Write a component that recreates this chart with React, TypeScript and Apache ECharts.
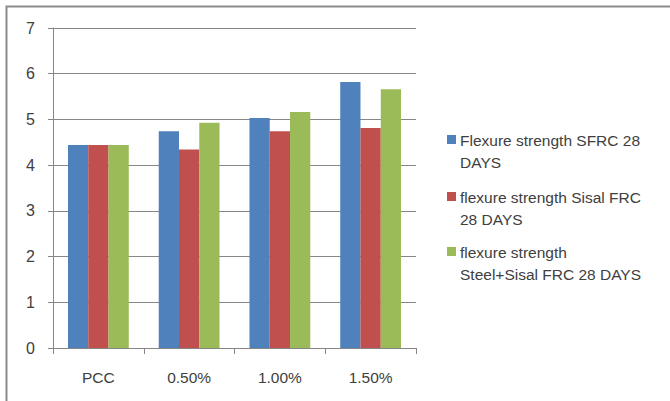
import React, { useEffect, useRef } from "react";
import * as echarts from "echarts";

const categories = ["PCC", "0.50%", "1.00%", "1.50%"];
const seriesNames = [
  "Flexure strength SFRC 28 DAYS",
  "flexure strength Sisal FRC 28 DAYS",
  "flexure strength Steel+Sisal FRC 28 DAYS",
];
const legendLines = [
  ["Flexure strength SFRC 28", "DAYS"],
  ["flexure strength Sisal FRC", "28 DAYS"],
  ["flexure strength", "Steel+Sisal FRC 28 DAYS"],
];
const sfrc = [4.44, 4.74, 5.03, 5.82];
const sisal = [4.44, 4.34, 4.74, 4.81];
const steelSisal = [4.44, 4.93, 5.16, 5.66];
const colors = ["#4F81BD", "#C0504D", "#9BBB59"];

export default function App() {
  const ref = useRef<HTMLDivElement>(null);
  useEffect(() => {
    if (!ref.current) return;
    const chart = echarts.init(ref.current, undefined, { renderer: "svg" });
    const font = "'Liberation Sans', 'DejaVu Sans', sans-serif";
    const textColor = "#404040";
    const data = [sfrc, sisal, steelSisal];
    const legendGraphics: any[] = [];
    const legendTops = [140, 197, 252];
    legendLines.forEach((lines, i) => {
      legendGraphics.push({
        type: "rect",
        shape: { x: 447, y: legendTops[i] - 5, width: 9, height: 9 },
        style: { fill: colors[i] },
      });
      lines.forEach((ln, j) => {
        legendGraphics.push({
          type: "text",
          x: 460,
          y: legendTops[i] + j * 22.5,
          style: {
            text: ln,
            font: `15.5px ${font}`,
            fill: textColor,
            verticalAlign: "middle",
          },
        });
      });
    });
    chart.setOption({
      animation: false,
      backgroundColor: "#ffffff",
      grid: { left: 53, top: 28, width: 363, height: 320, containLabel: false },
      xAxis: {
        type: "category",
        data: categories,
        axisLine: { show: true, lineStyle: { color: "#868686", width: 1 } },
        axisTick: { show: true, length: 6, lineStyle: { color: "#868686" }, alignWithLabel: false },
        axisLabel: { color: textColor, fontSize: 15.5, fontFamily: font, margin: 21 },
        splitLine: { show: false },
      },
      yAxis: {
        type: "value",
        min: 0,
        max: 7,
        interval: 1,
        axisLine: { show: true, lineStyle: { color: "#868686", width: 1 } },
        axisTick: { show: true, length: 5, lineStyle: { color: "#868686" } },
        axisLabel: { color: textColor, fontSize: 16, fontFamily: font, margin: 18 },
        splitLine: { show: true, lineStyle: { color: "#868686", width: 1 } },
      },
      series: seriesNames.map((name, i) => ({
        name,
        type: "bar",
        data: data[i],
        itemStyle: { color: colors[i] },
        barGap: "0%",
        barCategoryGap: "33%",
      })),
      graphic: [
        {
          type: "rect",
          shape: { x: 6.5, y: 6.5, width: 700, height: 420 },
          style: { fill: "none", stroke: "#8c8c8c", lineWidth: 2 },
          silent: true,
        },
        ...legendGraphics,
      ],
    });
    return () => chart.dispose();
  }, []);
  return (
    <div style={{ position: "fixed", left: 0, top: 0, width: 670, height: 401 }}>
      <div ref={ref} style={{ width: 670, height: 401 }} />
    </div>
  );
}
